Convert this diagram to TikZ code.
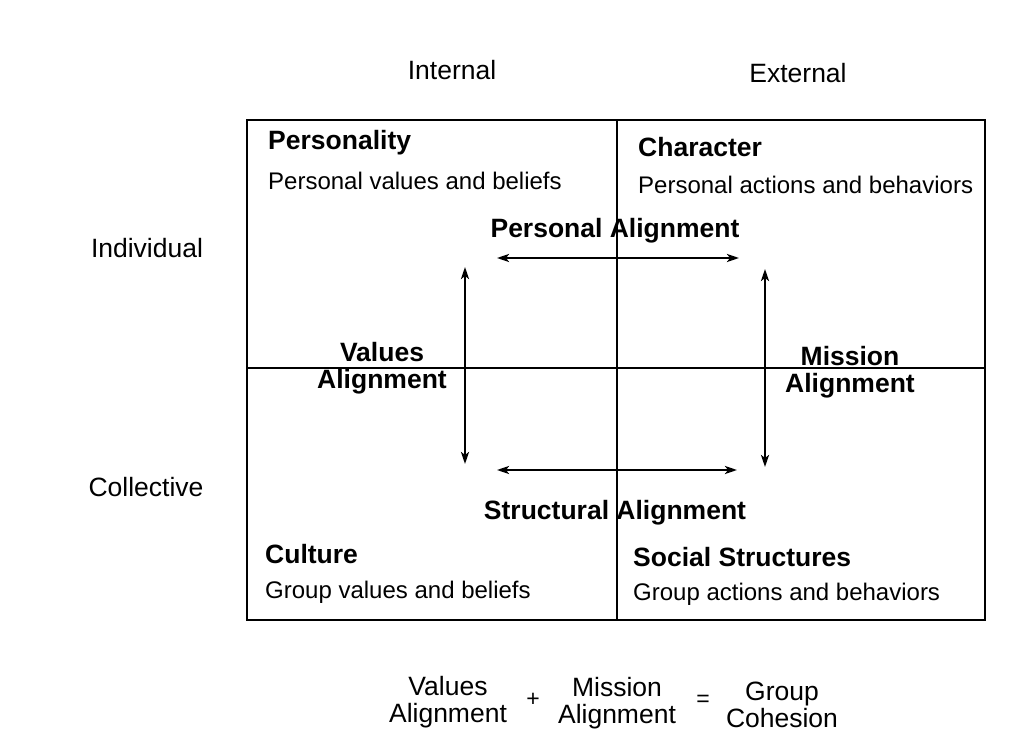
\documentclass[tikz,border=0pt]{standalone}
\usepackage{fontspec}
\setmainfont{Liberation Sans}
\usetikzlibrary{arrows.meta}
\begin{document}
\begin{tikzpicture}[x=1pt,y=-1pt,
  lbl/.style={inner sep=0pt, font=\fontsize{26.5}{30}\selectfont},
  head/.style={inner sep=0pt, anchor=west, font=\fontsize{26.5}{30}\selectfont\bfseries},
  body/.style={inner sep=0pt, anchor=west, font=\fontsize{24}{28}\selectfont},
  align2/.style={inner sep=0pt, align=center, font=\fontsize{26.5}{27}\selectfont\bfseries},
  eq/.style={inner sep=0pt, align=center, font=\fontsize{26.5}{27}\selectfont},
  op/.style={inner sep=0pt, font=\fontsize{23}{26}\selectfont},
  link/.style={line width=2.6pt, {Stealth[length=12pt,width=8pt,inset=3pt]}-{Stealth[length=12pt,width=8pt,inset=3pt]}}]
\useasboundingbox (0,0) rectangle (1026,751);
\fill[white] (0,0) rectangle (1026,751);

% column and row labels
\node[lbl] (int) at (452,70) {Internal};
\node[lbl] (ext) at (798,73) {External};
\node[lbl] (ind) at (147,248) {Individual};
\node[lbl] (col) at (146,487) {Collective};

% quadrant frame
\coordinate (tl) at (247,120);
\coordinate (br) at (985,620);
\draw[line width=1.8pt] (tl) rectangle (br);
\draw[line width=1.1pt] (617,120) -- (617,620);
\draw[line width=1.1pt] (247,368) -- (985,368);

% quadrant titles and descriptions
\node[head] (pers) at (268,143) {Personality};
\node[body] (persd) at (268,181) {Personal values and beliefs};
\node[head] (char) at (638,147) {Character};
\node[body] (chard) at (638,185) {Personal actions and behaviors};
\node[head] (cult) at (265,554) {Culture};
\node[body] (cultd) at (265,592) {Group values and beliefs};
\node[head] (soc) at (633,557) {Social Structures};
\node[body] (socd) at (633,594) {Group actions and behaviors};

% alignment labels
\node[align2] (pa) at (615,231) {Personal Alignment};
\node[align2] (sa) at (615,513) {Structural Alignment};
\node[align2] (va) at (382,368) {Values\\Alignment};
\node[align2] (ma) at (850,372) {Mission\\Alignment};

% alignment arrows
\coordinate (a1) at (497,258); \coordinate (a2) at (739,258);
\coordinate (b1) at (497,470); \coordinate (b2) at (737,470);
\coordinate (c1) at (465,267); \coordinate (c2) at (465,464);
\coordinate (d1) at (765,269); \coordinate (d2) at (765,467);
\draw[link] (a1) -- (a2);
\draw[link] (b1) -- (b2);
\draw[link] (c1) -- (c2);
\draw[link] (d1) -- (d2);

% summary equation
\node[eq] (e1) at (448,702) {Values\\Alignment};
\node[op] (plus) at (533,700) {+};
\node[eq] (e2) at (617,703) {Mission\\Alignment};
\node[op] (eqs) at (703,701) {=};
\node[eq] (e3) at (782,705) {Group\\Cohesion};
\end{tikzpicture}
\end{document}
